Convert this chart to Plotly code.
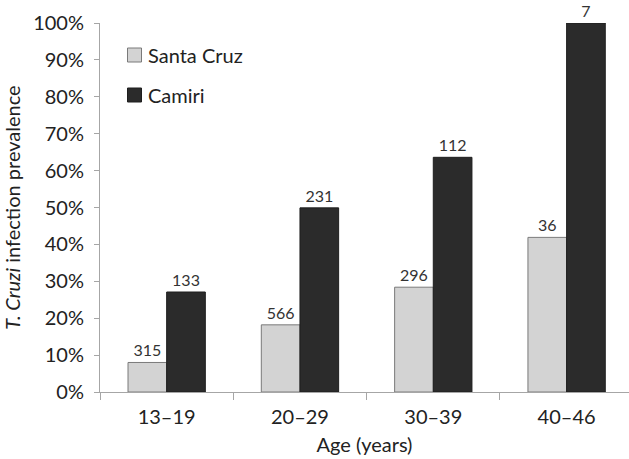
import plotly.graph_objects as go

categories = ["13\u201319", "20\u201329", "30\u201339", "40\u201346"]
santa_cruz = [0.08, 0.182, 0.284, 0.419]
camiri = [0.271, 0.499, 0.636, 1.0]
santa_cruz_n = ["315", "566", "296", "36"]
camiri_n = ["133", "231", "112", "7"]
series_names = ["Santa Cruz", "Camiri"]
y_ticks = [0, 0.1, 0.2, 0.3, 0.4, 0.5, 0.6, 0.7, 0.8, 0.9, 1.0]
y_tick_text = [f"{int(round(v*100))}%" for v in y_ticks]

FONT = "Lato, 'Open Sans', sans-serif"
SC_FILL, SC_LINE = "#d3d3d3", "#7a7a7a"
CA_FILL, CA_LINE = "#2b2b2b", "#1e1e1e"

fig = go.Figure()
fig.add_trace(go.Bar(
    x=categories, y=santa_cruz, name=series_names[0],
    marker=dict(color=SC_FILL, line=dict(color=SC_LINE, width=1)),
    text=santa_cruz_n, textposition="outside", cliponaxis=False,
    textfont=dict(size=16, color="#333333", family=FONT),
))
fig.add_trace(go.Bar(
    x=categories, y=camiri, name=series_names[1],
    marker=dict(color=CA_FILL, line=dict(color=CA_LINE, width=1)),
    text=camiri_n, textposition="outside", cliponaxis=False,
    textfont=dict(size=16, color="#333333", family=FONT),
))

# manual legend (paper coordinates; plot area spans 529 x 369 px)
PW, PH = 529.0, 369.0
def px(xa):
    return (xa - 100) / PW
def py(ya):
    return (392 - ya) / PH

legend_items = [(series_names[0], SC_FILL, SC_LINE, 55), (series_names[1], CA_FILL, CA_LINE, 95)]
for name, fill, line, cy in legend_items:
    fig.add_shape(type="rect", xref="paper", yref="paper",
                  x0=px(127.5), x1=px(141.5), y0=py(cy + 7), y1=py(cy - 7),
                  fillcolor=fill, line=dict(color=line, width=1))
    fig.add_annotation(xref="paper", yref="paper", x=px(146), y=py(cy),
                       xanchor="left", yanchor="middle", showarrow=False,
                       text=name, font=dict(size=20, color="#222222", family=FONT))

fig.update_layout(
    width=629, height=459,
    margin=dict(l=100, r=0, t=23, b=67, autoexpand=False),
    paper_bgcolor="white", plot_bgcolor="white",
    barmode="group", bargap=0.42, bargroupgap=0,
    font=dict(family=FONT, size=20, color="#222222"),
    showlegend=False,
    xaxis=dict(
        range=[-0.5, 3.468], showline=True, linecolor="#a6a6a6", linewidth=1,
        ticks="outside", tickson="boundaries", ticklen=7, tickcolor="#a6a6a6",
        tickfont=dict(size=20), showgrid=False, ticklabelstandoff=7, automargin=False,
        title=dict(text="Age (years)", font=dict(size=20), standoff=10),
    ),
    yaxis=dict(
        range=[0, 1], tickvals=y_ticks, ticktext=y_tick_text,
        showline=True, linecolor="#a6a6a6", linewidth=1,
        ticks="outside", ticklen=5, tickcolor="#a6a6a6", automargin=False,
        tickfont=dict(size=20), showgrid=False, zeroline=False, ticklabelstandoff=6,
        title=dict(text="<i>T. Cruzi</i> infection prevalence", font=dict(size=20), standoff=8),
    ),
)

fig.write_html("out.html", config={"displayModeBar": False},
               post_script="document.body.style.margin='0';document.body.style.overflow='hidden';")
